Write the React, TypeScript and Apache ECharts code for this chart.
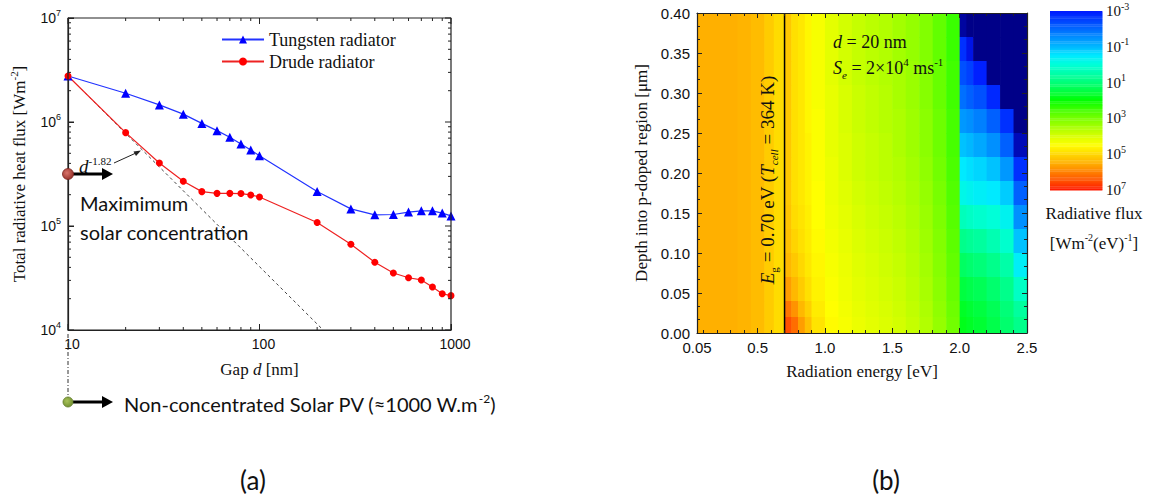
import React, { useEffect, useRef } from 'react';
import * as echarts from 'echarts';

// ---------- Panel (a): total radiative heat flux vs gap ----------
const gapNm = [10, 20, 30, 40, 50, 60, 70, 80, 90, 100, 200, 300, 400, 500, 600, 700, 800, 900, 1000];
const tungstenFlux = [2.77e6, 1.89e6, 1.46e6, 1.19e6, 9.7e5, 8.26e5, 7.13e5, 6.14e5, 5.38e5, 4.74e5, 2.15e5, 1.46e5, 1.28e5, 1.29e5, 1.36e5, 1.4e5, 1.4e5, 1.33e5, 1.25e5];
const drudeFlux = [2.77e6, 7.9e5, 4.03e5, 2.69e5, 2.14e5, 2.06e5, 2.06e5, 2.05e5, 1.99e5, 1.9e5, 1.08e5, 6.67e4, 4.48e4, 3.53e4, 3.18e4, 3.03e4, 2.59e4, 2.23e4, 2.14e4];
const fitGapNm = [10, 215];
const fitFlux = [2.77e6, 1.0e4];
const gapMin = 10;
const gapMax = 1000;
const fluxMin = 1e4;
const fluxMax = 1e7;
const gapMajorTicks = [10, 100, 1000];
const fluxMajorTicks = [1e4, 1e5, 1e6, 1e7];
const logMinorMultipliers = [2, 3, 4, 5, 6, 7, 8, 9];
const gapMinorDecades = [10, 100];
const fluxMinorDecades = [1e4, 1e5, 1e6];

// ---------- Panel (b): radiative flux map ----------
const energyTickValues = [0.05, 0.5, 1.0, 1.5, 2.0, 2.5];
const energyMinorTicks = [0.1, 0.2, 0.3, 0.4, 0.6, 0.7, 0.8, 0.9, 1.1, 1.2, 1.3, 1.4, 1.6, 1.7, 1.8, 1.9, 2.1, 2.2, 2.3, 2.4];
const bandgapEnergy = 0.7;
const energyEdges = [0.05, 0.15, 0.25, 0.35, 0.45, 0.55, 0.62, 0.7, 0.75, 0.8, 0.85, 0.9, 1.0, 1.1, 1.2, 1.3, 1.4, 1.5, 1.6, 1.7, 1.8, 1.9, 2.0, 2.05, 2.1, 2.2, 2.3, 2.4, 2.5];
const depthEdges = [0.4, 0.37, 0.34, 0.31, 0.28, 0.25, 0.22, 0.19, 0.16, 0.13, 0.1, 0.07, 0.04, 0.02, 0.0];
// log10 of radiative flux, rows from top (0.40 um) to bottom (0 um), columns along energyEdges
const logFlux = [
  [5.5, 5.5, 5.5, 5.45, 5.35, 5.15, 4.95, 5.2, 4.9, 4.8, 4.6, 4.4, 4.15, 3.95, 3.8, 3.7, 3.6, 3.45, 3.3, 3.1, 2.8, 2.45, -3.4, -3.5, -3.5, -3.5, -3.5, -3.5],
  [5.5, 5.5, 5.5, 5.45, 5.35, 5.15, 4.95, 5.2, 4.9, 4.8, 4.6, 4.4, 4.15, 3.95, 3.8, 3.7, 3.6, 3.45, 3.3, 3.1, 2.8, 2.45, -2.7, -3.1, -3.5, -3.5, -3.5, -3.5],
  [5.5, 5.5, 5.5, 5.45, 5.35, 5.15, 4.95, 5.2, 4.9, 4.8, 4.6, 4.4, 4.15, 3.95, 3.8, 3.7, 3.6, 3.5, 3.35, 3.15, 2.85, 2.5, -2.3, -2.5, -2.9, -3.5, -3.5, -3.5],
  [5.5, 5.5, 5.5, 5.45, 5.35, 5.15, 4.95, 5.2, 4.9, 4.8, 4.6, 4.4, 4.2, 4.0, 3.85, 3.75, 3.65, 3.5, 3.35, 3.15, 2.85, 2.5, -1.9, -2.1, -2.3, -2.8, -3.5, -3.5],
  [5.5, 5.5, 5.5, 5.45, 5.35, 5.15, 4.95, 5.2, 4.9, 4.8, 4.6, 4.45, 4.2, 4.0, 3.85, 3.75, 3.65, 3.55, 3.4, 3.2, 2.9, 2.55, -1.4, -1.5, -1.7, -2.1, -2.7, -3.5],
  [5.5, 5.5, 5.5, 5.45, 5.35, 5.15, 4.95, 5.2, 4.9, 4.8, 4.65, 4.45, 4.2, 4.05, 3.9, 3.8, 3.7, 3.55, 3.4, 3.2, 2.9, 2.55, -0.9, -1.0, -1.2, -1.5, -2.1, -3.3],
  [5.5, 5.5, 5.5, 5.45, 5.35, 5.15, 4.95, 5.2, 4.9, 4.8, 4.65, 4.45, 4.25, 4.05, 3.9, 3.8, 3.7, 3.6, 3.45, 3.25, 2.95, 2.6, -0.5, -0.6, -0.7, -0.9, -1.4, -2.7],
  [5.5, 5.5, 5.5, 5.45, 5.35, 5.15, 4.95, 5.2, 4.9, 4.8, 4.65, 4.5, 4.25, 4.1, 3.95, 3.85, 3.75, 3.65, 3.5, 3.3, 3.0, 2.65, -0.2, -0.3, -0.4, -0.5, -0.8, -2.1],
  [5.5, 5.5, 5.5, 5.45, 5.35, 5.15, 4.95, 5.25, 4.95, 4.85, 4.7, 4.5, 4.3, 4.15, 4.0, 3.9, 3.8, 3.7, 3.55, 3.35, 3.05, 2.7, 0.3, 0.2, 0.1, 0.0, -0.3, -1.5],
  [5.5, 5.5, 5.5, 5.45, 5.35, 5.15, 4.95, 5.3, 5.05, 4.9, 4.75, 4.55, 4.35, 4.2, 4.05, 3.95, 3.85, 3.75, 3.6, 3.4, 3.1, 2.75, 0.8, 0.7, 0.6, 0.4, 0.1, -0.9],
  [5.5, 5.5, 5.5, 5.45, 5.35, 5.15, 4.95, 5.4, 5.2, 5.0, 4.8, 4.6, 4.4, 4.25, 4.1, 4.0, 3.9, 3.8, 3.65, 3.45, 3.15, 2.8, 1.2, 1.1, 1.0, 0.8, 0.5, -0.4],
  [5.5, 5.5, 5.5, 5.45, 5.35, 5.15, 4.95, 5.7, 5.4, 5.15, 4.9, 4.65, 4.45, 4.3, 4.15, 4.05, 3.95, 3.85, 3.7, 3.5, 3.2, 2.85, 1.5, 1.4, 1.3, 1.1, 0.8, 0.2],
  [5.5, 5.5, 5.5, 5.45, 5.35, 5.15, 4.95, 6.1, 5.8, 5.4, 5.1, 4.75, 4.5, 4.35, 4.2, 4.1, 4.0, 3.9, 3.75, 3.55, 3.25, 2.9, 1.7, 1.6, 1.5, 1.3, 1.0, 0.6],
  [5.5, 5.5, 5.5, 5.45, 5.35, 5.15, 4.95, 6.5, 6.2, 5.7, 5.3, 4.85, 4.55, 4.4, 4.25, 4.15, 4.05, 3.95, 3.8, 3.6, 3.3, 2.95, 1.8, 1.7, 1.6, 1.4, 1.1, 0.8],
];
const colorbarMin = -3;
const colorbarMax = 7;
const colorbarTicks = [-3, -1, 1, 3, 5, 7];
const colorScaleMin = -3.5;
// colours at 0.5-decade steps from 10^-3.5 (below colour bar) up to 10^7
const fluxColors = [
  '#000088',
  '#0018ff', '#0040ff', '#0068ff', '#0090ff', '#00b8ff', '#00eaff', '#00ffd8', '#00ffa8', '#00ff78', '#00ff40',
  '#00ff00', '#40ff00', '#78ff00', '#a8ff00', '#d8ff00', '#ffff00', '#ffd800', '#ffb000', '#ff8000', '#ff5000', '#ff1800',
];

const SERIF = '"Liberation Serif", "Times New Roman", serif';
const SANS = '"Liberation Sans", Arial, sans-serif';
const CAL = 'Lato, "Open Sans", sans-serif';
const INK = '#111';
const AXC = '#222';

// layout of panel (a) plot box
const GRID_A = { left: 68, top: 18, width: 383, height: 312 };

const supRich = (size: number, family: string) => ({
  sup: { fontSize: size, verticalAlign: 'top', fontFamily: family, color: INK, lineHeight: size + 2 },
});
const mkLine = () => ({ show: true, onZero: false, lineStyle: { color: AXC, width: 1.2 } });
const mkNoLine = () => ({ show: false, onZero: false });
const mkTick = (len: number, extra: any = {}) => ({ show: true, inside: true, length: len, lineStyle: { color: AXC, width: 1 }, ...extra });

function rectItem(api: any, pad: number) {
  const a = api.coord([api.value(0), api.value(3)]);
  const b = api.coord([api.value(1), api.value(2)]);
  const x = Math.min(a[0], b[0]);
  const y = Math.min(a[1], b[1]);
  return {
    type: 'rect',
    shape: { x, y, width: Math.abs(b[0] - a[0]) + pad, height: Math.abs(b[1] - a[1]) + pad },
    style: { fill: api.visual('color') },
  };
}

// frame and log ticks of panel (a), drawn as line series on the panel's own log axes
function frameSeries(): any[] {
  const pxPerDecX = GRID_A.width / (Math.log10(gapMax) - Math.log10(gapMin));
  const pxPerDecY = GRID_A.height / (Math.log10(fluxMax) - Math.log10(fluxMin));
  const fX = (len: number) => Math.pow(10, len / pxPerDecX);
  const fY = (len: number) => Math.pow(10, len / pxPerDecY);
  const seg = (pts: number[][], width: number) => ({
    type: 'line', xAxisIndex: 0, yAxisIndex: 0, z: 5, clip: false, symbol: 'none', showSymbol: false,
    legendHoverLink: false, data: pts, lineStyle: { color: AXC, width },
    emphasis: { disabled: true },
  });
  const out: any[] = [
    seg([[gapMin, fluxMin], [gapMax, fluxMin], [gapMax, fluxMax], [gapMin, fluxMax], [gapMin, fluxMin]], 1.2),
  ];
  const vTick = (g: number, len: number) => {
    out.push(seg([[g, fluxMin], [g, fluxMin * fY(len)]], 1));
    out.push(seg([[g, fluxMax], [g, fluxMax / fY(len)]], 1));
  };
  const hTick = (f: number, len: number) => {
    out.push(seg([[gapMin, f], [gapMin * fX(len), f]], 1));
    out.push(seg([[gapMax, f], [gapMax / fX(len), f]], 1));
  };
  gapMajorTicks.forEach((g) => vTick(g, 6));
  fluxMajorTicks.forEach((f) => hTick(f, 6));
  gapMinorDecades.forEach((d) => logMinorMultipliers.forEach((m) => vTick(d * m, 3)));
  fluxMinorDecades.forEach((d) => logMinorMultipliers.forEach((m) => hTick(d * m, 3)));
  return out;
}

function annotationGraphic(): any[] {
  const arrow = (x0: number, x1: number, y: number) => [
    { type: 'line', shape: { x1: x0, y1: y, x2: x1 - 9, y2: y }, style: { stroke: '#000', lineWidth: 3 }, z: 20 },
    { type: 'polygon', shape: { points: [[x1 - 11, y - 6], [x1, y], [x1 - 11, y + 6]] }, style: { fill: '#000' }, z: 20 },
  ];
  return [
    {
      type: 'text', x: 79, y: 166, z: 20,
      style: {
        text: '{i|d}{sup|-1.82}', verticalAlign: 'middle', align: 'left', fill: INK, lineHeight: 22,
        rich: { i: { fontFamily: SERIF, fontSize: 19, fontStyle: 'italic', fill: INK }, sup: { fontFamily: SERIF, fontSize: 11, verticalAlign: 'top', fill: INK, lineHeight: 12 } },
      },
    },
    { type: 'line', shape: { x1: 114, y1: 163, x2: 136, y2: 153 }, style: { stroke: '#222', lineWidth: 1 }, z: 20 },
    { type: 'polygon', shape: { points: [[141, 150.5], [133.5, 151.5], [136, 156]] }, style: { fill: '#222' }, z: 20 },
    ...arrow(73, 113, 174),
    {
      type: 'circle', shape: { cx: 68, cy: 174, r: 5.5 }, z: 21,
      style: { fill: new echarts.graphic.RadialGradient(0.4, 0.4, 0.7, [{ offset: 0, color: '#d9736a' }, { offset: 1, color: '#8f2b24' }]), stroke: '#7a2520', lineWidth: 0.8 },
    },
    { type: 'text', x: 80, y: 203, z: 20, style: { text: 'Maximimum', fontFamily: CAL, fontSize: 20, fill: INK, verticalAlign: 'middle' } },
    { type: 'text', x: 80, y: 232, z: 20, style: { text: 'solar concentration', fontFamily: CAL, fontSize: 20, fill: INK, verticalAlign: 'middle' } },
    { type: 'line', shape: { x1: 68, y1: 334, x2: 68, y2: 398 }, style: { stroke: '#333', lineWidth: 1, lineDash: [4, 2, 1, 2] }, z: 20 },
    ...arrow(73, 113, 402),
    {
      type: 'circle', shape: { cx: 68, cy: 402, r: 5 }, z: 21,
      style: { fill: new echarts.graphic.RadialGradient(0.4, 0.4, 0.7, [{ offset: 0, color: '#a8c25a' }, { offset: 1, color: '#6b8a2c' }]), stroke: '#5f7a28', lineWidth: 0.8 },
    },
    {
      type: 'text', x: 124, y: 404, z: 20,
      style: {
        text: 'Non-concentrated Solar PV (≈1000 W.m{sup|-2})', fontFamily: CAL, fontSize: 20, fill: INK, verticalAlign: 'middle', lineHeight: 24,
        rich: { sup: { fontFamily: CAL, fontSize: 12, verticalAlign: 'top', fill: INK, lineHeight: 13 } },
      },
    },
    { type: 'text', x: 253, y: 480, z: 20, style: { text: '(a)', fontFamily: CAL, fontSize: 26, fill: INK, align: 'center', verticalAlign: 'middle' } },
    { type: 'text', x: 886, y: 480, z: 20, style: { text: '(b)', fontFamily: CAL, fontSize: 26, fill: INK, align: 'center', verticalAlign: 'middle' } },
    {
      type: 'text', x: 767, y: 180, rotation: Math.PI / 2, z: 20,
      style: {
        text: '{i|E}{sub|g} = 0.70 eV ({i|T}{subi|cell} = 364 K)', fontFamily: SERIF, fontSize: 19, fill: INK,
        align: 'center', verticalAlign: 'middle', lineHeight: 24,
        rich: {
          i: { fontFamily: SERIF, fontSize: 19, fontStyle: 'italic', fill: INK },
          sub: { fontFamily: SERIF, fontSize: 11, verticalAlign: 'bottom', fill: INK, lineHeight: 12 },
          subi: { fontFamily: SERIF, fontSize: 11, fontStyle: 'italic', verticalAlign: 'bottom', fill: INK, lineHeight: 12 },
        },
      },
    },
    {
      type: 'text', x: 833, y: 42, z: 20,
      style: {
        text: '{i|d} = 20 nm', fontFamily: SERIF, fontSize: 18, fill: INK, verticalAlign: 'middle',
        rich: { i: { fontFamily: SERIF, fontSize: 18, fontStyle: 'italic', fill: INK } },
      },
    },
    {
      type: 'text', x: 833, y: 68, z: 20,
      style: {
        text: '{i|S}{sub|e} = 2×10{sup|4} ms{sup|-1}', fontFamily: SERIF, fontSize: 18, fill: INK, verticalAlign: 'middle', lineHeight: 24,
        rich: {
          i: { fontFamily: SERIF, fontSize: 18, fontStyle: 'italic', fill: INK },
          sub: { fontFamily: SERIF, fontSize: 11, fontStyle: 'italic', verticalAlign: 'bottom', fill: INK, lineHeight: 12 },
          sup: { fontFamily: SERIF, fontSize: 11, verticalAlign: 'top', fill: INK, lineHeight: 12 },
        },
      },
    },
    { type: 'text', x: 1094, y: 213, z: 20, style: { text: 'Radiative flux', fontFamily: SERIF, fontSize: 17, fill: INK, align: 'center', verticalAlign: 'middle' } },
    {
      type: 'text', x: 1094, y: 243, z: 20,
      style: {
        text: '[Wm{sup|-2}(eV){sup|-1}]', fontFamily: SERIF, fontSize: 17, fill: INK, align: 'center', verticalAlign: 'middle', lineHeight: 22,
        rich: { sup: { fontFamily: SERIF, fontSize: 10, verticalAlign: 'top', fill: INK, lineHeight: 11 } },
      },
    },
  ];
}

function buildOption() {
  const heatData: number[][] = [];
  for (let r = 0; r < logFlux.length; r++) {
    for (let c = 0; c < logFlux[r].length; c++) {
      heatData.push([energyEdges[c], energyEdges[c + 1], depthEdges[r + 1], depthEdges[r], logFlux[r][c]]);
    }
  }
  const barData: number[][] = [];
  const step = 0.05;
  for (let v = colorbarMin; v < colorbarMax - 1e-9; v += step) {
    barData.push([0, 1, v, Math.min(v + step, colorbarMax), v + step / 2]);
  }

  const xAxis: any[] = [
    {
      type: 'log', gridIndex: 0, min: gapMin, max: gapMax,
      axisLine: mkLine(), axisTick: mkTick(6), splitLine: { show: false },
      axisLabel: { color: INK, fontFamily: SANS, fontSize: 14, margin: 7, padding: [0, 0, 0, 8], formatter: (v: number) => String(v) },
      name: '{n|Gap }{i|d}{n| [nm]}', nameLocation: 'middle', nameGap: 31,
      nameTextStyle: {
        rich: {
          n: { fontFamily: SERIF, fontSize: 17, color: INK },
          i: { fontFamily: SERIF, fontSize: 17, fontStyle: 'italic', color: INK },
        },
      },
    },
    {
      type: 'value', gridIndex: 1, min: 0.05, max: 2.5, position: 'bottom', z: 10,
      axisLine: mkLine(), axisTick: mkTick(5, { customValues: energyTickValues }), splitLine: { show: false },
      axisLabel: {
        customValues: energyTickValues, color: INK, fontFamily: SANS, fontSize: 15, margin: 7,
        formatter: (v: number) => (Math.abs(v - 0.05) < 1e-9 ? '0.05' : v.toFixed(1)),
      },
      name: 'Radiation energy [eV]', nameLocation: 'middle', nameGap: 30,
      nameTextStyle: { fontFamily: SERIF, fontSize: 17, color: INK },
    },
    { type: 'value', gridIndex: 1, min: 0.05, max: 2.5, position: 'top', z: 10, axisLine: mkLine(), axisTick: mkTick(5, { customValues: energyTickValues }), axisLabel: { show: false }, splitLine: { show: false } },
    { type: 'value', gridIndex: 1, min: 0.05, max: 2.5, position: 'bottom', z: 10, axisLine: mkNoLine(), axisTick: mkTick(3, { customValues: energyMinorTicks }), axisLabel: { show: false }, splitLine: { show: false } },
    { type: 'value', gridIndex: 1, min: 0.05, max: 2.5, position: 'top', z: 10, axisLine: mkNoLine(), axisTick: mkTick(3, { customValues: energyMinorTicks }), axisLabel: { show: false }, splitLine: { show: false } },
    { type: 'value', gridIndex: 2, min: 0, max: 1, show: false },
  ];

  const yAxis: any[] = [
    {
      type: 'log', gridIndex: 0, min: fluxMin, max: fluxMax,
      axisLine: mkLine(), axisTick: mkTick(6), splitLine: { show: false },
      axisLabel: {
        color: INK, fontFamily: SANS, fontSize: 14, lineHeight: 20, margin: 7,
        formatter: (v: number) => '10{sup|' + Math.round(Math.log10(v)) + '}', rich: supRich(9, SANS),
      },
      name: 'Total radiative heat flux [Wm{sup|-2}]', nameLocation: 'middle', nameGap: 38,
      nameTextStyle: { fontFamily: SERIF, fontSize: 17, color: INK, lineHeight: 22, rich: supRich(11, SERIF) },
    },
    {
      type: 'value', gridIndex: 1, min: 0, max: 0.4, interval: 0.05, position: 'left', z: 10,
      axisLine: mkLine(), axisTick: mkTick(5), minorTick: { show: true, splitNumber: 3, length: 3, lineStyle: { color: AXC } },
      splitLine: { show: false }, minorSplitLine: { show: false },
      axisLabel: { color: INK, fontFamily: SANS, fontSize: 15, margin: 7, formatter: (v: number) => v.toFixed(2) },
      name: 'Depth into p-doped region [μm]', nameLocation: 'middle', nameGap: 47,
      nameTextStyle: { fontFamily: SERIF, fontSize: 17, color: INK },
    },
    {
      type: 'value', gridIndex: 1, min: 0, max: 0.4, interval: 0.05, position: 'right', z: 10,
      axisLine: mkLine(), axisTick: mkTick(5), minorTick: { show: true, splitNumber: 3, length: 3, lineStyle: { color: AXC } },
      splitLine: { show: false }, minorSplitLine: { show: false }, axisLabel: { show: false },
    },
    {
      type: 'value', gridIndex: 2, min: colorbarMin, max: colorbarMax, inverse: true, position: 'right',
      axisLine: mkNoLine(), axisTick: { show: false }, splitLine: { show: false },
      axisLabel: {
        customValues: colorbarTicks, color: INK, fontFamily: SERIF, fontSize: 15, margin: 4, lineHeight: 20,
        formatter: (v: number) => '10{sup|' + v + '}', rich: supRich(10, SERIF),
      },
    },
  ];

  return {
    animation: false,
    backgroundColor: '#fff',
    grid: [
      { ...GRID_A },
      { left: 697, top: 13, width: 330, height: 320 },
      { left: 1050, top: 11, width: 52, height: 179 },
    ],
    xAxis,
    yAxis,
    legend: {
      data: ['Tungsten radiator', 'Drude radiator'], orient: 'vertical', left: 216, top: 25,
      itemWidth: 42, itemHeight: 10, itemGap: 3, selectedMode: false,
      textStyle: { fontFamily: SERIF, fontSize: 18, color: INK, lineHeight: 19 },
    },
    visualMap: {
      type: 'continuous', show: false, min: colorScaleMin, max: colorbarMax, dimension: 4, seriesIndex: [3, 5],
      inRange: { color: fluxColors },
    },
    series: [
      {
        name: 'Tungsten radiator', type: 'line', xAxisIndex: 0, yAxisIndex: 0, z: 4,
        data: gapNm.map((g, i) => [g, tungstenFlux[i]]),
        symbol: 'triangle', symbolSize: 9, color: '#0000ff', lineStyle: { color: '#2233ff', width: 1.2 },
      },
      {
        name: 'Drude radiator', type: 'line', xAxisIndex: 0, yAxisIndex: 0, z: 4,
        data: gapNm.map((g, i) => [g, drudeFlux[i]]),
        symbol: 'circle', symbolSize: 7, color: '#ff0000', lineStyle: { color: '#ee2222', width: 1.2 },
      },
      {
        name: 'd^-1.82 fit', type: 'line', xAxisIndex: 0, yAxisIndex: 0, z: 3, symbol: 'none',
        data: fitGapNm.map((g, i) => [g, fitFlux[i]]),
        lineStyle: { color: '#444', width: 1, type: [3, 3] },
      },
      {
        name: 'Radiative flux', type: 'custom', xAxisIndex: 1, yAxisIndex: 1, clip: false, z: 2,
        data: heatData, encode: { x: [0, 1], y: [2, 3] },
        renderItem: (params: any, api: any) => rectItem(api, 0.6),
      },
      {
        name: 'Bandgap', type: 'line', xAxisIndex: 1, yAxisIndex: 1, z: 6, symbol: 'none',
        data: [[bandgapEnergy, 0], [bandgapEnergy, 0.4]],
        lineStyle: { color: '#000', width: 1.5 },
      },
      {
        name: 'Colour bar', type: 'custom', xAxisIndex: 5, yAxisIndex: 3, clip: false, z: 2,
        data: barData, encode: { x: [0, 1], y: [2, 3] },
        renderItem: (params: any, api: any) => rectItem(api, 0.4),
      },
      ...frameSeries(),
    ],
    graphic: annotationGraphic(),
  };
}

export default function App() {
  const ref = useRef<HTMLDivElement>(null);
  useEffect(() => {
    if (!ref.current) return;
    const chart = echarts.init(ref.current, null, { renderer: 'svg' });
    chart.setOption(buildOption() as any);
    return () => chart.dispose();
  }, []);
  return <div ref={ref} style={{ position: 'fixed', left: 0, top: 0, width: 1152, height: 498, background: '#fff' }} />;
}
